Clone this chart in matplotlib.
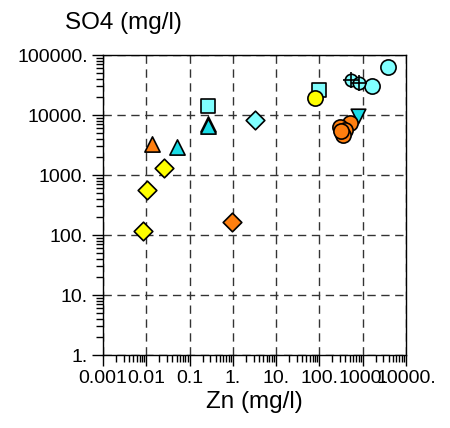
import matplotlib.pyplot as plt
from matplotlib.ticker import FixedLocator, LogLocator, NullFormatter

plt.rcParams['font.family'] = ['Liberation Sans', 'DejaVu Sans']

# data (Zn mg/l, SO4 mg/l)
cyan_circle_zn = [3900, 1600]
cyan_circle_so4 = [62000, 31000]
cross_circle_zn = [525, 830]
cross_circle_so4 = [39000, 33700]
cyan_square_zn = [99, 0.26]
cyan_square_so4 = [26000, 14300]
yellow_circle_zn = [80]
yellow_circle_so4 = [19400]
cyan_down_zn = [760]
cyan_down_so4 = [9600]
orange_circle_zn = [500, 297, 388, 348, 316]
orange_circle_so4 = [7350, 6300, 5620, 4640, 5380]
cyan_diamond_zn = [3.2]
cyan_diamond_so4 = [8300]
cyan_tri_zn = [0.26, 0.26, 0.052]
cyan_tri_so4 = [7000, 6600, 2960]
orange_tri_zn = [0.0133]
orange_tri_so4 = [3290]
yellow_diamond_zn = [0.0257, 0.0106, 0.0085]
yellow_diamond_so4 = [1310, 556, 118]
orange_diamond_zn = [0.97]
orange_diamond_so4 = [167]

x_ticks = [0.001, 0.01, 0.1, 1, 10, 100, 1000, 10000]
x_labels = ['0.001', '0.01', '0.1', '1.', '10.', '100.', '1000.', '10000.']
y_ticks = [1, 10, 100, 1000, 10000, 100000]
y_labels = ['1.', '10.', '100.', '1000.', '10000.', '100000.']

light_cyan = '#80FFFF'
cyan = '#1ADCE6'
orange = '#FF7F0F'
yellow = '#FFFF00'

fig = plt.figure(figsize=(4.5, 4.28), dpi=100)
ax = fig.add_axes([103 / 450, 1 - 355 / 428, 303 / 450, 300 / 428])

kw = dict(edgecolors='black', linewidths=1.2, zorder=3)
ax.scatter(cyan_circle_zn, cyan_circle_so4, s=120, marker='o', c=light_cyan, **kw)
ax.scatter(cross_circle_zn, cross_circle_so4, s=80, marker='o', c=light_cyan, **kw)
ax.scatter(cross_circle_zn, cross_circle_so4, s=120, marker='+', c='black', linewidths=1.2, zorder=4)
ax.scatter(cyan_square_zn, cyan_square_so4, s=110, marker='s', c=light_cyan, **kw)
ax.scatter(yellow_circle_zn, yellow_circle_so4, s=120, marker='o', c=yellow, **kw)
ax.scatter(cyan_down_zn, cyan_down_so4, s=110, marker='v', c=cyan, **kw)
ax.scatter(orange_circle_zn, orange_circle_so4, s=120, marker='o', c=orange, **kw)
ax.scatter(cyan_diamond_zn, cyan_diamond_so4, s=90, marker='D', c=light_cyan, **kw)
ax.scatter(cyan_tri_zn, cyan_tri_so4, s=120, marker='^', c=cyan, **kw)
ax.scatter(orange_tri_zn, orange_tri_so4, s=120, marker='^', c=orange, **kw)
ax.scatter(yellow_diamond_zn, yellow_diamond_so4, s=90, marker='D', c=yellow, **kw)
ax.scatter(orange_diamond_zn, orange_diamond_so4, s=90, marker='D', c=orange, **kw)

ax.set_xscale('log')
ax.set_yscale('log')
ax.set_xlim(0.001, 10000)
ax.set_ylim(1, 100000)

ax.xaxis.set_major_locator(FixedLocator(x_ticks))
ax.set_xticklabels(x_labels, fontsize=14)
ax.yaxis.set_major_locator(FixedLocator(y_ticks))
ax.set_yticklabels(y_labels, fontsize=14)
ax.xaxis.set_minor_locator(LogLocator(base=10, subs=range(2, 10), numticks=20))
ax.yaxis.set_minor_locator(LogLocator(base=10, subs=range(2, 10), numticks=20))
ax.xaxis.set_minor_formatter(NullFormatter())
ax.yaxis.set_minor_formatter(NullFormatter())
ax.tick_params(which='major', length=8, width=1, direction='out', pad=3)
ax.tick_params(which='minor', length=5, width=1, direction='out')

ax.grid(True, which='major', linestyle=(0, (6, 4)), color='#333333', linewidth=1)
for s in ax.spines.values():
    s.set_linewidth(1)

ax.set_xlabel('Zn (mg/l)', fontsize=17.5, labelpad=3)
fig.text(65 / 450, 1 - 29 / 428, 'SO4 (mg/l)', fontsize=17.5, ha='left', va='baseline')

plt.savefig('out.png', dpi=100)
